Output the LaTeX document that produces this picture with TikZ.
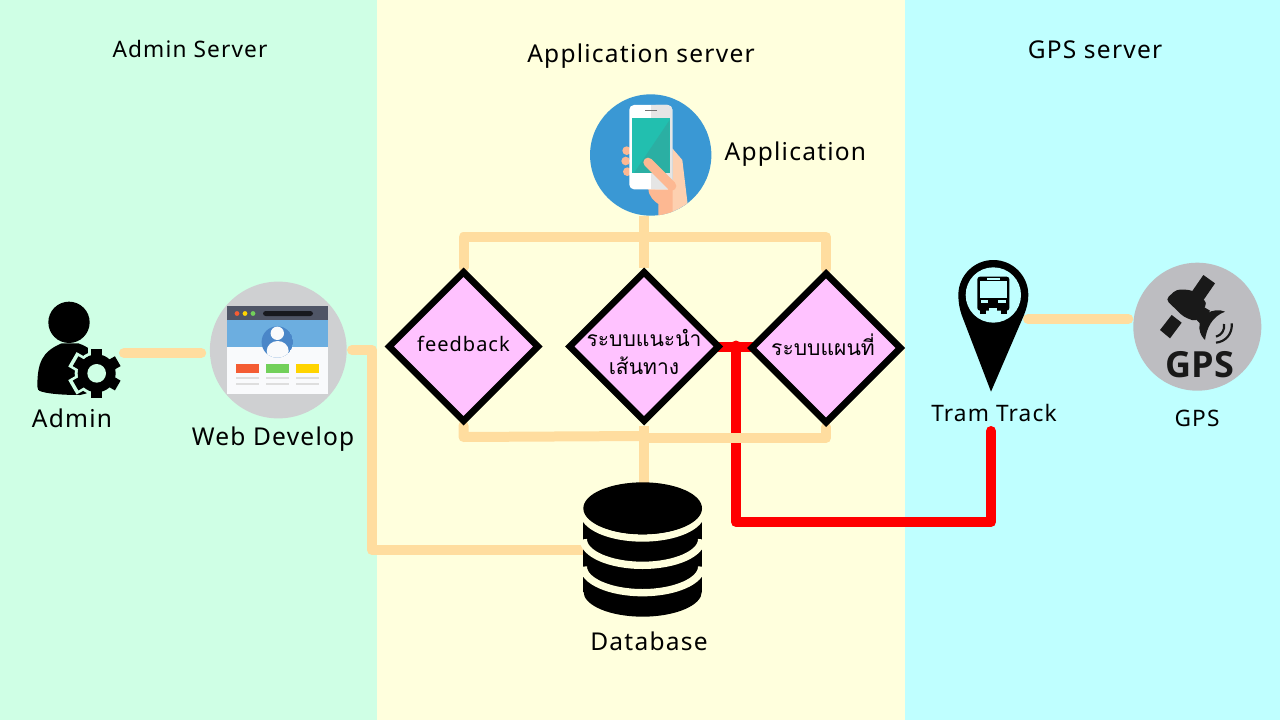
\documentclass[tikz,border=0pt]{standalone}
\usepackage{fontspec}
\setmainfont[LetterSpace=5]{Noto Sans}
\newfontfamily\thaifont[Script=Thai]{Loma}
\newfontfamily\badgefont{Open Sans}
\usetikzlibrary{shapes.geometric}
\definecolor{adminbg}{HTML}{CFFFE5}
\definecolor{appbg}{HTML}{FFFFDD}
\definecolor{gpsbg}{HTML}{BFFFFF}
\definecolor{linkpeach}{HTML}{FFDD9F}
\definecolor{diamondpink}{HTML}{FFC2FF}
\definecolor{skinlight}{HTML}{FDD0B0}
\definecolor{skindark}{HTML}{FDB892}
\definecolor{discgrey}{HTML}{CFD0D2}
\definecolor{badgegrey}{HTML}{BDBDC1}
\definecolor{phoneblue}{HTML}{3A98D4}
\definecolor{barslate}{HTML}{4F5566}
\definecolor{pageblue}{HTML}{6CAEE0}
\definecolor{avatarblue}{HTML}{4A86C8}
\definecolor{pagewhite}{HTML}{F9FAFC}
\definecolor{screenteal}{HTML}{22BFAF}
\definecolor{screendark}{HTML}{2BAFA3}
\definecolor{tilered}{HTML}{F45C33}
\definecolor{tilegreen}{HTML}{72D05A}
\definecolor{tileyellow}{HTML}{FFD400}
\pgfdeclarelayer{bands}
\pgfdeclarelayer{links}
\pgfsetlayers{bands,links,main}
\tikzset{
  link/.style={draw=linkpeach, line width=7.5pt, line cap=round, line join=round},
  redlink/.style={draw=red, line width=7.5pt, line cap=round, line join=round},
  module/.style={diamond, aspect=1, draw=black, fill=diamondpink, line width=5pt, minimum size=113.5pt, inner sep=0pt},
  iconbox/.style={inner sep=0pt, outer sep=0pt},
  disc/.style={circle, inner sep=0pt, outer sep=0pt},
  lbl/.style={inner sep=1pt, font=\fontsize{18.4}{22}\selectfont},
  smalllbl/.style={inner sep=1pt, font=\fontsize{17}{20}\selectfont},
  thailbl/.style={inner sep=0pt, align=center, font=\fontsize{15.8}{21}\selectfont\thaifont}
}
\begin{document}
\begin{tikzpicture}[x=0.75pt, y=-0.75pt]
  \useasboundingbox (0,0) rectangle (1280,720);

  % Background bands
  \begin{pgfonlayer}{bands}
    \fill[adminbg] (0,0) rectangle (377,720);
    \fill[appbg] (377,0) rectangle (905,720);
    \fill[gpsbg] (905,0) rectangle (1280,720);
  \end{pgfonlayer}

  % Band titles
  \node[smalllbl] (admintitle) at (190,49) {Admin Server};
  \node[lbl] (apptitle) at (641,56) {Application server};
  \node[lbl] (gpstitle) at (1095,50) {GPS server};

  % Decision diamonds
  \node[module] (feedback) at (463.5,346.5) {};
  \node[module] (route) at (644,346.5) {};
  \node[module] (mapview) at (826,348) {};
  \node[inner sep=0pt, font=\fontsize{15}{18}\selectfont] (feedbacklbl) at (463.5,343.5) {feedback};
  \node[thailbl] (routelbl) at (644,352) {ระบบแนะนำ\\เส้นทาง};
  \node[thailbl] (mapviewlbl) at (823,345) {ระบบแผนที่};

  % Icon holders
  \node[iconbox, minimum width=67.5pt, minimum height=75pt] (admin) at (79,353) {};
  \node[disc, fill=discgrey, minimum size=102.6pt] (webdev) at (278.3,350) {};
  \node[disc, fill=phoneblue, minimum size=91pt] (app) at (650.7,155) {};
  \node[iconbox, minimum width=88.5pt, minimum height=101pt] (db) at (643,550) {};
  \node[iconbox, minimum width=52.5pt, minimum height=110pt] (pin) at (993,319) {};
  \node[disc, fill=badgegrey, minimum size=96pt] (gps) at (1197.3,326.7) {};

  % Named bends
  \coordinate (webbend) at (372,350);
  \coordinate (webfoot) at (372,550);
  \coordinate (barleft) at (463.5,237);
  \coordinate (barright) at (826,237);
  \coordinate (footleft) at (463.5,437);
  \coordinate (footmid) at (644,436);
  \coordinate (footmidb) at (644,438);
  \coordinate (footright) at (826,438);
  \coordinate (redtop) at (736,345.5);
  \coordinate (redcorner) at (736,522);
  \coordinate (redturn) at (991,522);
  \coordinate (redend) at (991,431);

  % Connectors
  \begin{pgfonlayer}{links}
    \draw[redlink, line cap=butt] (route.center) -- (mapview.center |- route.center);
    \draw[redlink] (redtop) -- (redcorner) -- (redturn) -- (redend);
    \draw[link, shorten >=6.5pt] (admin.east) -- (webdev.west |- admin.east);
    \draw[link, shorten <=4pt] (webdev.east) -- (webbend) -- (webfoot) -- (db.west);
    \draw[link, line cap=butt] (route.north |- app.south) -- (route.north);
    \draw[link] (feedback.north) -- (barleft) -- (barright) -- (mapview.north);
    \draw[link] (feedback.south) -- (footleft) -- (footmid);
    \draw[link] (footmidb) -- (footright) -- (mapview.south);
    \draw[link, line cap=butt] (route.south) -- (route.south |- db.north);
    \draw[link, shorten >=3.75pt] (pin.east) -- (gps.west |- pin.east);
  \end{pgfonlayer}

  % Admin figure
  \begin{scope}[shift={(0,260)}, x=0.25pt, y=-0.25pt]
    \fill (207,187) circle[radius=62];
    \fill (112,380) .. controls (112,310) and (125,275) .. (185,250)
      -- (235,250) .. controls (250,255) and (262,262) .. (270,268)
      -- (260,400) -- (240,405) .. controls (190,405) and (150,402) .. (125,395)
      .. controls (115,392) and (112,388) .. (112,380) -- cycle;
    \foreach \a in {0,60,...,300}
      \fill[adminbg, shift={(290,340)}, rotate=\a] (-25,50) rectangle (25,84);
    \fill[adminbg] (290,340) circle[radius=66];
    \foreach \a in {0,60,...,300}
      \fill[shift={(290,340)}, rotate=\a] (-17,45) rectangle (17,73);
    \fill (290,340) circle[radius=57];
    \fill[adminbg] (290,340) circle[radius=28];
  \end{scope}
  \node[lbl] (adminlbl) at (72,418) {Admin};

  % Browser window
  \fill[pagewhite] (227,347) rectangle (328,394);
  \fill[barslate] (227,306) rectangle (328,320);
  \fill[pageblue] (227,320) rectangle (328,347);
  \fill[tilered] (237,313.5) circle[radius=2.4];
  \fill[tileyellow] (245,313.5) circle[radius=2.4];
  \fill[tilegreen] (253,313.5) circle[radius=2.4];
  \fill[black!70!barslate, rounded corners=2pt] (263,311) rectangle (313,316);
  \begin{scope}
    \clip (277.3,342) circle[radius=15.7];
    \fill[avatarblue] (277.3,342) circle[radius=15.7];
    \fill[pagewhite] (277.7,351) ellipse[x radius=11, y radius=10];
    \fill[pagewhite] (277.3,333.3) circle[radius=6.7];
  \end{scope}
  \foreach \px/\pc in {236/tilered, 266/tilegreen, 296/tileyellow} {
    \fill[\pc] (\px,364) rectangle ++(23,8.5);
    \fill[black!13] (\px,376.8) rectangle ++(23,2.5);
    \fill[black!13] (\px,382.8) rectangle ++(23,2.5);
  }
  \node[lbl] (webdevlbl) at (273,439) {Web Develop};

  % Hand and phone
  \begin{scope}[shift={(560,80)}, x=0.25pt, y=-0.25pt]
    \begin{scope}
      \clip (272,225) circle[radius=182];
      \foreach \fx/\fy in {200/212,197/243,202/275}
        \fill[skindark] (\fx,\fy) circle[radius=13];
      \fill[skinlight] (337,205) -- (367,240) -- (385,390) -- (295,420) -- (337,300) -- cycle;
      \fill[skindark] (265,325) .. controls (265,350) and (285,365) .. (295,372)
        -- (295,420) -- (338,400) -- (338,315) -- cycle;
    \end{scope}
    \fill[white, rounded corners=3.5pt] (208,75) rectangle (337,328);
    \fill[black!10, rounded corners=3.5pt] (273,75) rectangle (337,328);
    \fill[black!10] (273,75) rectangle (300,328);
    \draw[black!55, line width=0.6pt] (255,92) -- (292,92);
    \fill[screenteal] (217,114) rectangle (329,279);
    \fill[screendark] (329,120) -- (329,279) -- (222,279) -- cycle;
    \draw[skindark, line width=7pt, line cap=round] (264,247) -- (335,318);
  \end{scope}
  \node[lbl, anchor=west] (applbl) at (723,154) {Application};

  % Database stack
  \begin{scope}[shift={(560,470)}, x=0.25pt, y=-0.25pt]
    \fill (70,135) rectangle (425,365);
    \fill (248,365) ellipse[x radius=177.5, y radius=75];
    \foreach \gy in {126,208,290}
      \draw[appbg, line width=5.5pt] (70,\gy) arc[start angle=180, end angle=0, x radius=177.5, y radius=78];
    \fill (248,115) ellipse[x radius=178, y radius=78];
  \end{scope}
  \node[lbl] (dblbl) at (649,641) {Database};

  % Tram stop pin
  \begin{scope}[shift={(920,250)}, x=0.25pt, y=-0.25pt]
    \fill (115,135) arc[start angle=180, end angle=360, radius=105]
      .. controls (325,155) and (320,175) .. (312,195) -- (213,425) -- (125,195)
      .. controls (118,175) and (115,155) .. (115,135) -- cycle;
    \fill[gpsbg] (220,135) circle[radius=83];
    \fill[rounded corners=2pt] (172,80) rectangle (268,182);
    \fill (180,178) rectangle (198,192);
    \fill (242,178) rectangle (260,192);
    \fill[gpsbg] (180,94) rectangle (260,145);
    \fill[gpsbg] (200,84) rectangle (240,89);
    \fill[gpsbg] (183,150) rectangle (205,158);
    \fill[gpsbg] (235,150) rectangle (258,158);
    \fill[gpsbg] (208,174) rectangle (232,182);
  \end{scope}
  \node[smalllbl] (pinlbl) at (994,413) {Tram Track};

  % Satellite badge
  \begin{scope}[shift={(920,250)}, x=0.25pt, y=-0.25pt]
    \fill[black!90] (850,75) -- (885,100) -- (845,158) -- (810,133) -- cycle;
    \fill[black!90] (755,195) -- (785,218) -- (750,265) -- (720,240) -- cycle;
    \fill[black!90, rounded corners=3pt] (737,148) -- (770,118) -- (815,120) -- (862,158) -- (828,215) -- (790,200) -- cycle;
    \fill[black!90] (915,185) .. controls (880,170) and (835,195) .. (838,235)
      .. controls (840,255) and (850,265) .. (855,270)
      .. controls (860,235) and (875,200) .. (915,185) -- cycle;
    \fill[black!90] (850,170) -- (870,182) -- (845,225) -- (825,205) -- cycle;
    \draw[black!90, line width=1.6pt] (912,222) .. controls (915,240) and (905,255) .. (888,260);
    \draw[black!90, line width=1.6pt] (935,220) .. controls (938,250) and (918,275) .. (888,278);
  \end{scope}
  \node[inner sep=0pt, text=black!90, font=\fontsize{27}{30}\selectfont\badgefont\bfseries] (gpsbadge) at (1200,365) {GPS};
  \node[smalllbl] (gpslbl) at (1197,418) {GPS};
\end{tikzpicture}
\end{document}
